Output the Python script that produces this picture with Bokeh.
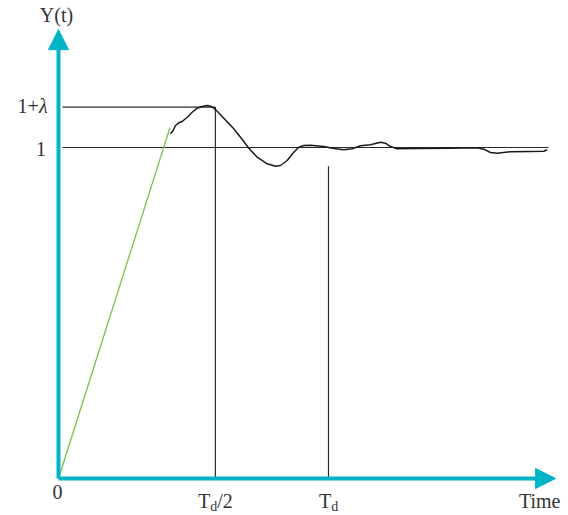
from bokeh.plotting import figure
from bokeh.models import Range1d, Arrow, NormalHead, Label
from bokeh.embed import file_html
from bokeh.resources import INLINE

# ---- data (time in units of Td, response in units of the final value) ----
response_t = [0.4148, 0.4248, 0.4333, 0.4456, 0.4581, 0.4767, 0.4952, 0.5137, 0.5322,
              0.5507, 0.5630, 0.5815, 0.6122, 0.6493, 0.6863, 0.7048, 0.7359, 0.7730,
              0.8037, 0.8222, 0.8470, 0.8715, 0.8900, 0.9085, 0.9333, 0.9826, 1.0196,
              1.0567, 1.0878, 1.1185, 1.1556, 1.1926, 1.2111, 1.2296, 1.2544, 1.3285,
              1.4519, 1.5507, 1.5752, 1.6000, 1.6248, 1.6741, 1.7481, 1.7974, 1.8100]
response_y = [1.0414, 1.0514, 1.0665, 1.0746, 1.0785, 1.0915, 1.1066, 1.1187, 1.1239,
              1.1269, 1.1248, 1.1148, 1.0885, 1.0565, 1.0181, 0.9979, 0.9707, 0.9508,
              0.9435, 0.9456, 0.9607, 0.9858, 1.0009, 1.0060, 1.0069, 1.0030, 0.9970,
              0.9931, 0.9961, 1.0051, 1.0082, 1.0160, 1.0130, 1.0030, 0.9961, 0.9970,
              0.9979, 0.9991, 0.9949, 0.9849, 0.9828, 0.9870, 0.9879, 0.9888, 0.9931]
ramp_t = [0.0, 0.413]
ramp_y = [0.0, 1.060]

overshoot_level = 1.122      # 1 + lambda
final_level = 1.0
half_td = 0.581              # Td/2 marker
td = 1.0                     # Td marker
td_marker_top = 0.943
ref_line_start = 0.015
final_line_end = 1.815
x_axis_end = 1.841
y_axis_end = 1.356

x_label_texts = ["0", "Time"]
y_label_texts = ["1", "1+", "λ"]
axis_title = "Y(t)"

CYAN = "#00B4C8"
GREEN = "#7CC04A"
DARK = "#2b2b2b"
FONT = "Liberation Serif"

p = figure(width=568, height=515, output_backend="svg", toolbar_location=None,
           x_range=Range1d(-0.2148, 1.8889), y_range=Range1d(-0.1118, 1.4441),
           min_border=0, min_border_left=0, min_border_right=0,
           min_border_top=0, min_border_bottom=0)
p.axis.visible = False
p.grid.visible = False
p.outline_line_color = None
p.background_fill_color = "white"

# reference lines
p.line([ref_line_start, half_td], [overshoot_level, overshoot_level], line_color=DARK, line_width=1.2)
p.line([ref_line_start, final_line_end], [final_level, final_level], line_color=DARK, line_width=1.2)
p.line([half_td, half_td], [0, overshoot_level], line_color=DARK, line_width=1.2)
p.line([td, td], [0, td_marker_top], line_color=DARK, line_width=1.2)

# ramp and response
p.line(ramp_t, ramp_y, line_color=GREEN, line_width=1.3)
p.line(response_t, response_y, line_color="#1a1a1a", line_width=1.5, line_join="round")

# axes with arrows
p.add_layout(Arrow(x_start=0, y_start=0, x_end=x_axis_end, y_end=0,
                   line_color=CYAN, line_width=4,
                   end=NormalHead(size=20, fill_color=CYAN, line_color=CYAN, line_width=1)))
p.add_layout(Arrow(x_start=0, y_start=0, x_end=0, y_end=y_axis_end,
                   line_color=CYAN, line_width=4,
                   end=NormalHead(size=20, fill_color=CYAN, line_color=CYAN, line_width=1)))

FS = "20px"
SUB = "14px"
TC = "#333333"
LIFT = 0.018   # compensates the renderer's baseline placement (about 6 px)


def lab(x, y, text, align="left", size=FS, style="normal", x_offset=0):
    p.add_layout(Label(x=x, y=y + LIFT, text=text, text_font=FONT, text_font_size=size,
                       text_font_style=style, text_align=align,
                       text_baseline="alphabetic", text_color=TC, x_offset=x_offset))


# Y(t) title
lab(-0.0074, 1.381, axis_title, align="center")

# y labels
lab(-0.046, 0.976, y_label_texts[0], align="right")
lab(-0.0726, 1.106, y_label_texts[1], align="right")
lab(-0.0726, 1.106, y_label_texts[2], align="left", style="italic")

# x labels
lab(-0.004, -0.0574, x_label_texts[0], align="center")
lab(1.859, -0.0846, x_label_texts[1], align="right")

# T_d/2 and T_d
lab(half_td, -0.0846, "T", x_offset=-17.4)
lab(half_td, -0.1030, "d", size=SUB, x_offset=-5.2)
lab(half_td, -0.0846, "/2", x_offset=1.8)
lab(td, -0.0846, "T", x_offset=-9.5)
lab(td, -0.1030, "d", size=SUB, x_offset=2.7)

open("out.html", "w").write(file_html(p, INLINE))
